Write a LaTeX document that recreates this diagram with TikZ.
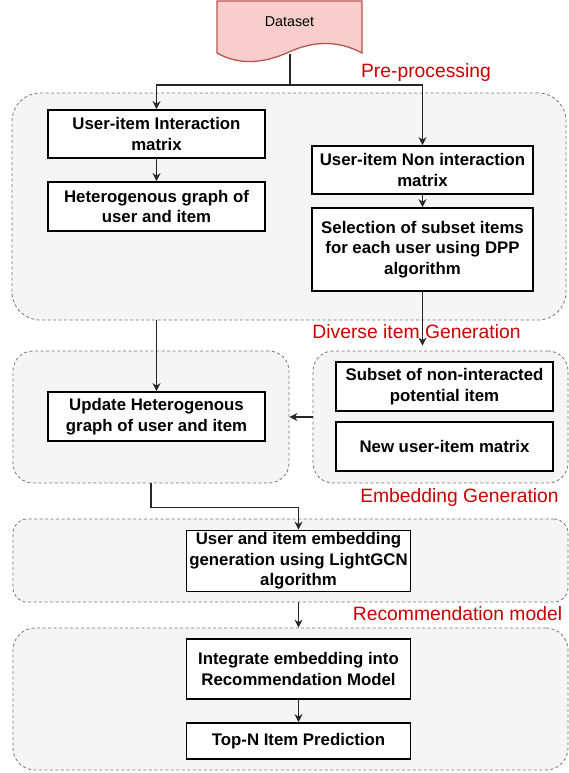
\documentclass[tikz,border=0pt]{standalone}
\usepackage{fontspec}
\setmainfont{Liberation Sans}
\usetikzlibrary{arrows.meta,calc}
\definecolor{grpfill}{HTML}{F5F5F5}
\definecolor{grpline}{HTML}{777777}
\definecolor{lblred}{HTML}{CC0000}
\definecolor{docfill}{HTML}{F8CECC}
\definecolor{docline}{HTML}{B85450}
\begin{document}
\begin{tikzpicture}[x=1pt,y=-1pt,
  grp/.style={draw=grpline, fill=grpfill, dash pattern=on 3pt off 2.5pt, line width=0.8pt, inner sep=0pt},
  stepbox/.style={draw=black, fill=white, line width=1.8pt, inner sep=0pt, align=center,
                  font=\fontsize{16.8}{20.5}\selectfont\bfseries},
  lbl/.style={text=lblred, font=\fontsize{19.3}{22}\selectfont, inner sep=0pt},
  conn/.style={line width=1.2pt, draw=black!85},
  arr/.style={conn, -{Stealth[length=8pt,width=8pt]}},
]
\useasboundingbox (0,0) rectangle (569,773);

% group containers
\node[grp, rounded corners=28pt, minimum width=554pt, minimum height=227pt] (pre) at (289,206.5) {};
\node[grp, rounded corners=20pt, minimum width=276pt, minimum height=132pt] (updc) at (151,417) {};
\node[grp, rounded corners=20pt, minimum width=255pt, minimum height=132pt] (divc) at (440.5,417) {};
\node[grp, rounded corners=14pt, minimum width=555pt, minimum height=83pt] (embc) at (290.5,560.5) {};
\node[grp, rounded corners=22pt, minimum width=555pt, minimum height=142pt] (recc) at (290.5,699) {};

% dataset document shape
\draw[docline, fill=docfill, line width=1.3pt] (217,1) -- (362,1) -- (362,53)
  .. controls (338,40) and (313,41) .. (289,52)
  .. controls (265,63) and (240,66) .. (217,53) -- cycle;
\node[font=\fontsize{14.3}{16}\selectfont, inner sep=0pt] (ds) at (289.5,22) {Dataset};
\coordinate (dsb) at (290,54);
\coordinate (split) at (290,85);

% process steps
\node[stepbox, minimum width=217pt, minimum height=48pt] (ia) at (156.5,134) {User-item Interaction\\matrix};
\node[stepbox, minimum width=217pt, minimum height=49pt] (hg) at (156.5,206.5) {Heterogenous graph of\\user and item};
\node[stepbox, minimum width=221pt, minimum height=48pt] (nia) at (422.5,170) {User-item Non interaction\\matrix};
\node[stepbox, minimum width=221pt, minimum height=83pt] (dpp) at (422.5,249.5) {Selection of subset items\\for each user using DPP\\algorithm};
\node[stepbox, minimum width=217pt, minimum height=49pt] (upd) at (156.5,416.5) {Update Heterogenous\\graph of user and item};
\node[stepbox, minimum width=217pt, minimum height=49pt] (sub) at (444.5,386.5) {Subset of non-interacted\\potential item};
\node[stepbox, minimum width=217pt, minimum height=49pt] (new) at (444.5,446.5) {New user-item matrix};
\node[stepbox, minimum width=224pt, minimum height=61pt] (emb) at (298.5,561) {User and item embedding\\generation using LightGCN\\algorithm};
\node[stepbox, minimum width=224pt, minimum height=60pt] (integ) at (298.5,669) {Integrate embedding into\\Recommendation Model};
\node[stepbox, minimum width=224pt, minimum height=36pt] (topn) at (298.5,741) {Top-N Item Prediction};

% stage labels
\node[lbl] (lpre) at (426,73) {Pre-processing};
\node[lbl] (ldiv) at (416.5,332) {Diverse item Generation};
\node[lbl] (lemb) at (459.5,498) {Embedding Generation};
\node[lbl] (lrec) at (457.5,614) {Recommendation model};

% connectors
\draw[conn] (dsb) -- (split);
\draw[arr] (split) -| (ia.north);
\draw[arr] (split) -| (nia.north);
\draw[arr] (ia) -- (hg);
\draw[arr] (nia) -- (dpp);
\draw[arr, shorten >=5pt] (dpp.south) -- (dpp.south |- divc.north);
\draw[arr] (pre.south -| upd) -- (upd.north);
\draw[arr] (divc.west) -- (updc.east);
\draw[arr] (updc.south) -- ++(0,24) -| (emb.north);
\draw[arr] (embc.south -| emb) -- (recc.north -| emb);
\draw[arr] (integ) -- (topn);
\end{tikzpicture}
\end{document}
